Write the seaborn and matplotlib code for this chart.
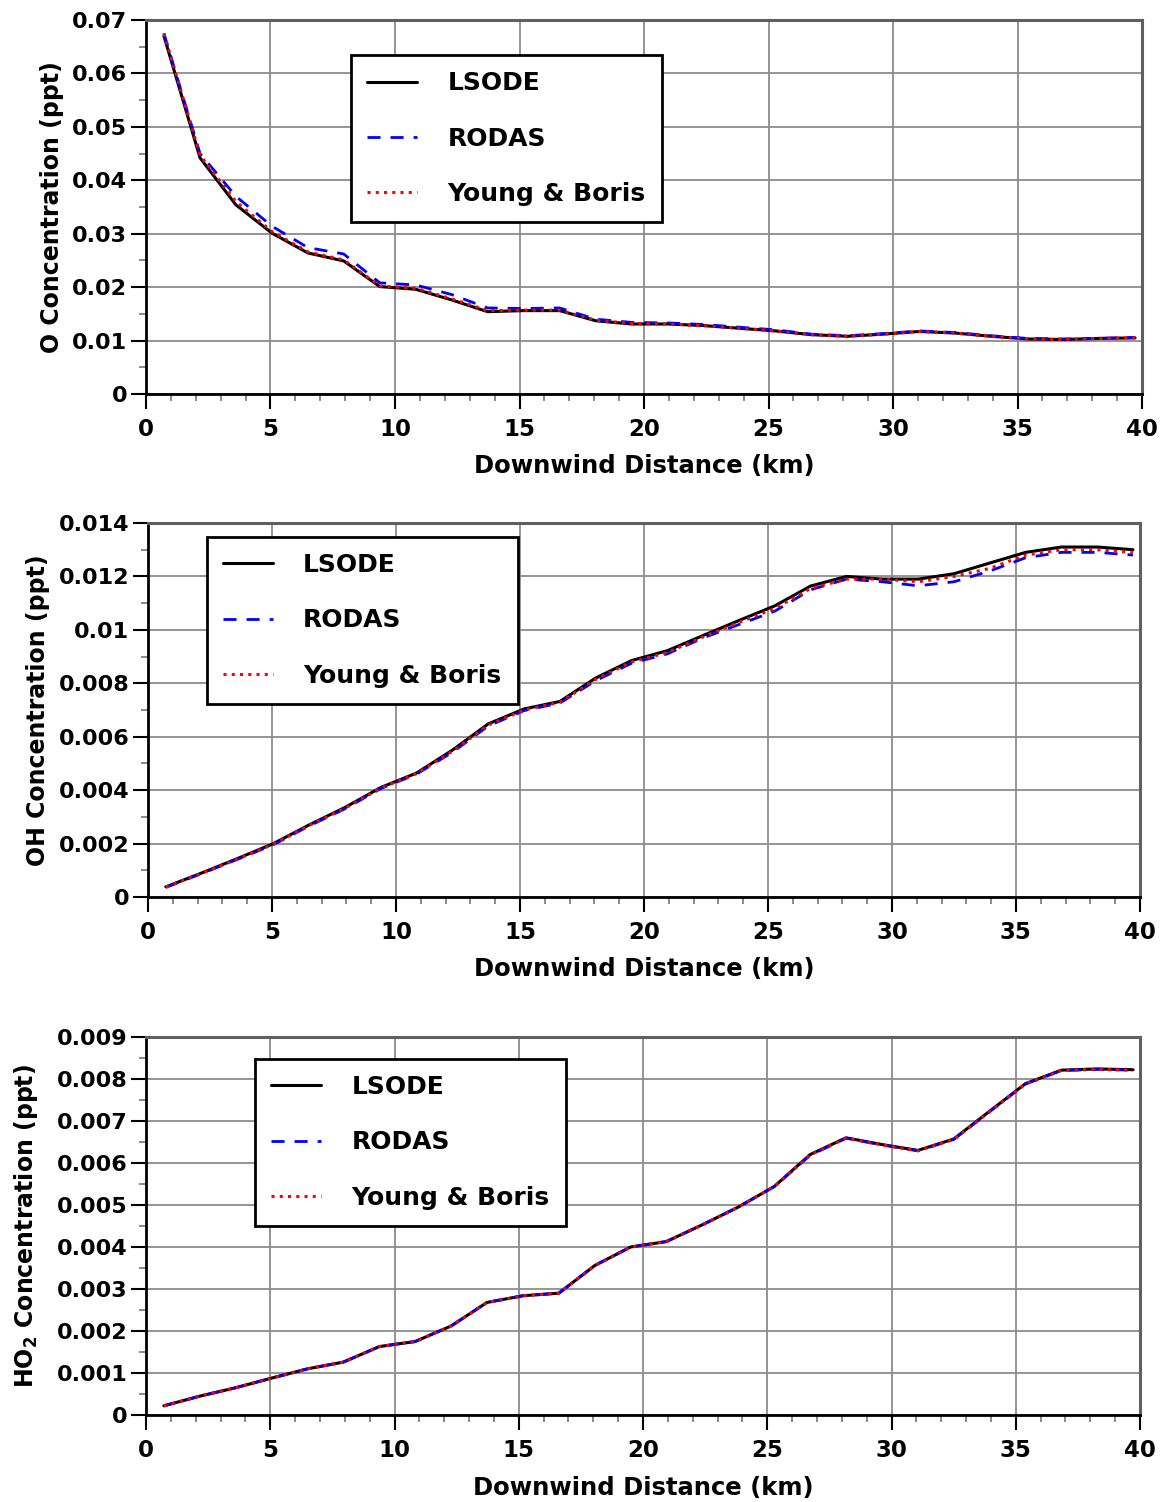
import numpy as np
import pandas as pd
import matplotlib
matplotlib.use("Agg")
import matplotlib.pyplot as plt
from matplotlib.ticker import MultipleLocator, FuncFormatter
import seaborn as sns

# ---------------- data ----------------
distance_km = [0.72, 2.17, 3.61, 5.06, 6.50, 7.94, 9.39, 10.83, 12.28, 13.72,
               15.17, 16.61, 18.06, 19.50, 20.94, 22.39, 23.83, 25.28, 26.72,
               28.17, 29.61, 31.06, 32.50, 33.94, 35.39, 36.83, 38.28, 39.72]

o_lsode = [0.0670, 0.0442, 0.0354, 0.0301, 0.0264, 0.0249, 0.0201, 0.0196, 0.0176, 0.0154,
           0.0156, 0.0156, 0.0137, 0.0131, 0.0131, 0.0128, 0.0123, 0.0118, 0.0111,
           0.0108, 0.0112, 0.0117, 0.0114, 0.0108, 0.0103, 0.0102, 0.0104, 0.0105]
o_rodas = [0.0675, 0.0450, 0.0370, 0.0314, 0.0274, 0.0262, 0.0208, 0.0204, 0.0186, 0.0161,
           0.0160, 0.0161, 0.0140, 0.0134, 0.0133, 0.0130, 0.0125, 0.0120, 0.0112,
           0.0109, 0.0113, 0.0118, 0.0115, 0.0109, 0.0104, 0.0103, 0.0104, 0.0106]
o_young = [0.0675, 0.0447, 0.0360, 0.0304, 0.0266, 0.0251, 0.0202, 0.0198, 0.0178, 0.0156,
           0.0157, 0.0157, 0.0138, 0.0132, 0.0131, 0.0128, 0.0123, 0.0118, 0.0111,
           0.0108, 0.0112, 0.0117, 0.0114, 0.0108, 0.0103, 0.0102, 0.0104, 0.0105]

oh_lsode = [0.00038, 0.00090, 0.00144, 0.00200, 0.00270, 0.00335, 0.00410, 0.00464, 0.00550, 0.00648,
            0.00704, 0.00732, 0.00820, 0.00885, 0.00922, 0.00979, 0.01035, 0.01090, 0.01164,
            0.01200, 0.01190, 0.01190, 0.01210, 0.01250, 0.01290, 0.01310, 0.01310, 0.01300]
oh_rodas = [0.00036, 0.00088, 0.00141, 0.00196, 0.00266, 0.00330, 0.00406, 0.00460, 0.00542, 0.00640,
            0.00698, 0.00726, 0.00810, 0.00875, 0.00910, 0.00970, 0.01020, 0.01070, 0.01150,
            0.01190, 0.01180, 0.01165, 0.01180, 0.01220, 0.01270, 0.01290, 0.01290, 0.01280]
oh_young = [0.00037, 0.00089, 0.00142, 0.00198, 0.00268, 0.00332, 0.00408, 0.00462, 0.00546, 0.00644,
            0.00700, 0.00729, 0.00815, 0.00880, 0.00915, 0.00974, 0.01028, 0.01080, 0.01155,
            0.01190, 0.01190, 0.01180, 0.01200, 0.01230, 0.01280, 0.01300, 0.01300, 0.01290]

ho2_lsode = [0.00022, 0.00045, 0.00065, 0.00088, 0.00110, 0.00126, 0.00163, 0.00175, 0.00212, 0.00268,
             0.00284, 0.00290, 0.00356, 0.00400, 0.00413, 0.00453, 0.00495, 0.00544, 0.00620,
             0.00660, 0.00644, 0.00630, 0.00657, 0.00723, 0.00789, 0.00821, 0.00824, 0.00822]
ho2_rodas = [0.00022, 0.00045, 0.00065, 0.00088, 0.00110, 0.00126, 0.00163, 0.00175, 0.00212, 0.00268,
             0.00284, 0.00290, 0.00356, 0.00400, 0.00413, 0.00453, 0.00495, 0.00544, 0.00618,
             0.00659, 0.00643, 0.00629, 0.00656, 0.00722, 0.00788, 0.00820, 0.00823, 0.00821]
ho2_young = [0.00022, 0.00045, 0.00065, 0.00088, 0.00110, 0.00126, 0.00163, 0.00175, 0.00212, 0.00268,
             0.00284, 0.00290, 0.00356, 0.00400, 0.00413, 0.00453, 0.00495, 0.00544, 0.00619,
             0.00659, 0.00643, 0.00629, 0.00656, 0.00722, 0.00788, 0.00820, 0.00823, 0.00821]

series_names = ["LSODE", "RODAS", "Young & Boris"]
xlabel_text = "Downwind Distance (km)"

# ---------------- style ----------------
sns.set_style("ticks")
plt.rcParams["font.family"] = ["DejaVu Sans"]
plt.rcParams["font.weight"] = "bold"
plt.rcParams["axes.labelweight"] = "bold"
plt.rcParams["mathtext.fontset"] = "dejavusans"
plt.rcParams["mathtext.default"] = "bf"
for key in ["text.color", "axes.labelcolor", "xtick.color", "ytick.color",
            "xtick.labelcolor", "ytick.labelcolor"]:
    plt.rcParams[key] = "black"

fig = plt.figure(figsize=(11.67, 15.02), dpi=100)

panels = [
    dict(rect=[0.1251, 0.7377, 0.8535, 0.2490], data=[o_lsode, o_rodas, o_young],
         ylim=(0, 0.07), major=0.01, minor=0.005, ylabelpad=6,
         ylabel="O Concentration (ppt)", legend_xy=(0.206, 0.906)),
    dict(rect=[0.1268, 0.4028, 0.8500, 0.2490], data=[oh_lsode, oh_rodas, oh_young],
         ylim=(0, 0.014), major=0.002, minor=0.001, ylabelpad=6,
         ylabel="OH Concentration (ppt)", legend_xy=(0.0595, 0.9626)),
    dict(rect=[0.1251, 0.0579, 0.8518, 0.2517], data=[ho2_lsode, ho2_rodas, ho2_young],
         ylim=(0, 0.009), major=0.001, minor=0.0005, ylabelpad=12,
         ylabel=r"HO$_\mathbf{2}$ Concentration (ppt)", legend_xy=(0.1097, 0.942)),
]

styles = [
    dict(color="black", linestyle="-", linewidth=2.2),
    dict(color="#0000ff", linestyle=(0, (4.7, 3.6)), linewidth=2.0),
    dict(color="#ff0000", linestyle=(0, (1, 1.7)), linewidth=2.2),
]

fmt = FuncFormatter(lambda v, p: f"{round(v, 6):g}")

for pdef in panels:
    ax = fig.add_axes(pdef["rect"])
    for name, vals, st in zip(series_names, pdef["data"], styles):
        df = pd.DataFrame({"x": distance_km, "y": vals})
        sns.lineplot(data=df, x="x", y="y", ax=ax, label=name, **st)
    ax.set_xlim(0, 40)
    ax.set_ylim(*pdef["ylim"])
    ax.xaxis.set_major_locator(MultipleLocator(5))
    ax.xaxis.set_minor_locator(MultipleLocator(1))
    ax.yaxis.set_major_locator(MultipleLocator(pdef["major"]))
    ax.yaxis.set_minor_locator(MultipleLocator(pdef["minor"]))
    ax.yaxis.set_major_formatter(fmt)
    ax.grid(True, which="major", color="#8c8c8c", linewidth=1.3)
    ax.set_axisbelow(True)
    ax.tick_params(axis="both", which="major", direction="out", length=10.5, width=1.5,
                   labelsize=16.5, colors="black")
    ax.tick_params(axis="x", which="major", pad=6.5)
    ax.tick_params(axis="y", which="major", pad=3, labelsize=16)
    ax.tick_params(axis="both", which="minor", direction="out", length=5, width=1.2,
                   color="#777777")
    for lab in ax.get_xticklabels() + ax.get_yticklabels():
        lab.set_fontweight("bold")
    for side in ["left", "bottom"]:
        ax.spines[side].set_linewidth(2.0)
        ax.spines[side].set_color("black")
    for side in ["right", "top"]:
        ax.spines[side].set_linewidth(2.2)
        ax.spines[side].set_color("#606060")
    ax.set_xlabel(xlabel_text, fontsize=17.5, fontweight="bold", labelpad=10, color="black")
    ax.set_ylabel(pdef["ylabel"], fontsize=17, fontweight="bold",
                  labelpad=pdef["ylabelpad"], color="black")
    leg = ax.legend(loc="upper left", bbox_to_anchor=pdef["legend_xy"], fancybox=False,
                    frameon=True, edgecolor="black", framealpha=1.0,
                    prop=dict(family="DejaVu Sans", weight="bold", size=18),
                    handlelength=2.0, handletextpad=1.2, labelspacing=1.25,
                    borderpad=0.65, borderaxespad=0.0)
    leg.get_frame().set_linewidth(2.0)
    for t in leg.get_texts():
        t.set_color("black")

fig.savefig("out.png", dpi=100)
